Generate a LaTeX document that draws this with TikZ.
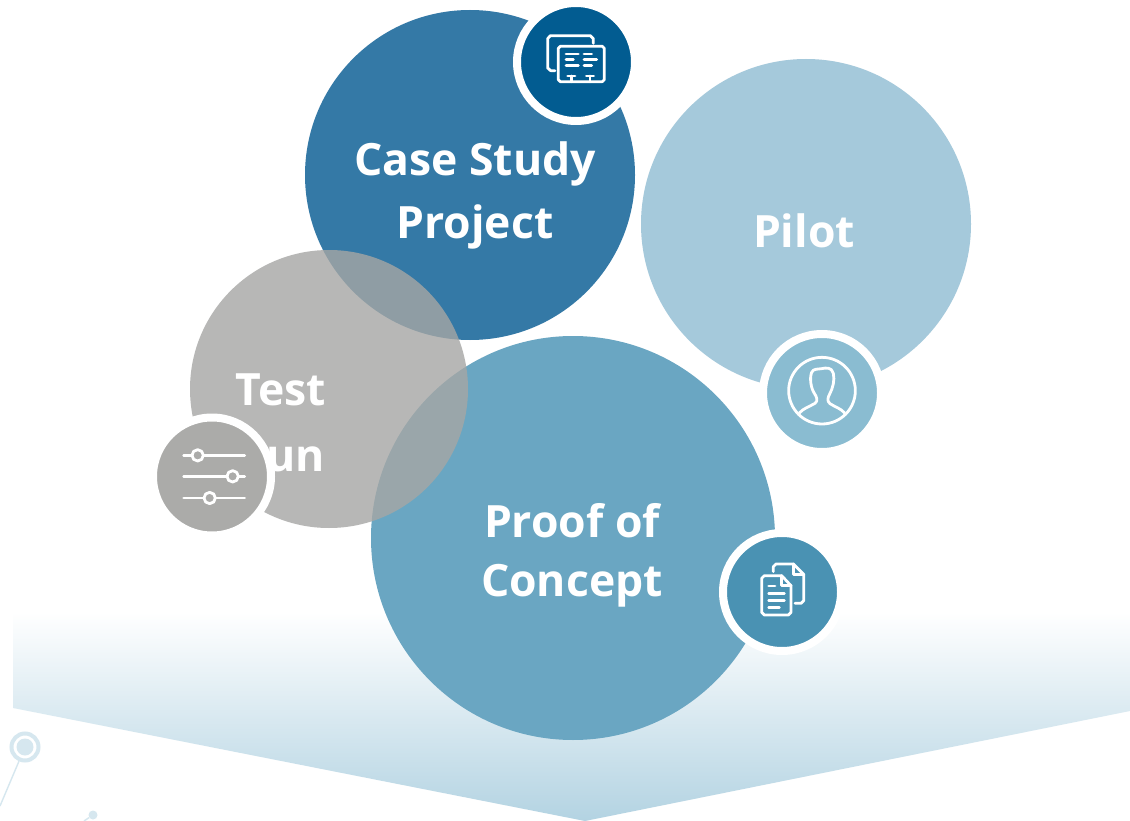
\documentclass[tikz,border=0pt]{standalone}
\usepackage{fontspec}
\setmainfont{Open Sans}
\definecolor{casec}{HTML}{3479A6}
\definecolor{caseic}{HTML}{025C91}
\definecolor{pilotc}{HTML}{A5C9DB}
\definecolor{pilotic}{HTML}{8ABCD1}
\definecolor{testc}{HTML}{A6A6A4}
\definecolor{testic}{HTML}{ABABA9}
\definecolor{proofc}{HTML}{6AA6C2}
\definecolor{proofic}{HTML}{4A92B3}
\definecolor{bandc}{HTML}{B3D3E2}
\definecolor{deco}{HTML}{D6E7EF}
\tikzset{
  bubble/.style={circle,inner sep=0pt,minimum size=#1},
  badge/.style={circle,inner sep=0pt,draw=white,line width=8pt,minimum size=118pt},
  lbl/.style={text=white,align=center,inner sep=0pt,font=\fontsize{44.5}{63}\selectfont\bfseries},
  icon/.style={draw=white,line width=2.8pt,line cap=round,line join=round},
  iconscale/.style={x=0.33333pt,y=-0.33333pt}
}
\begin{document}
\begin{tikzpicture}[x=1pt,y=-1pt]
\useasboundingbox (0,0) rectangle (1130,821);
\fill[white] (0,0) rectangle (1130,821);
% band
\shade[top color=white,bottom color=bandc,shading angle=0]
  (13,612) -- (1130,612) -- (1130,711) -- (585,821) -- (13,708) -- cycle;
% deco
\node[circle,draw=deco,line width=4pt,minimum size=27pt,inner sep=0pt] (ringa) at (25,747) {};
\node[circle,fill=deco,minimum size=17pt,inner sep=0pt] (ringb) at (25,747) {};
\node[circle,fill=deco,minimum size=9pt,inner sep=0pt] (dot) at (93,815) {};
\coordinate (enda) at (0,806);
\coordinate (endb) at (84,821);
\draw[deco,line width=1.4pt] (ringa) -- (enda);
\draw[deco,line width=1.4pt] (dot) -- (endb);
% bubbles
\node[bubble=330pt,fill=casec] (case) at (470,175) {};
\node[bubble=330pt,fill=pilotc] (pilot) at (806,224) {};
\node[bubble=404pt,fill=proofc] (proof) at (573,538) {};
\node[bubble=278pt,fill=testc,fill opacity=0.8] (test) at (329,389) {};
% labels
\node[lbl] (tcase) at (475,195) {Case Study\\Project};
\node[lbl] (tpilot) at (804,231) {Pilot};
\node[lbl,font=\fontsize{44.5}{66}\selectfont\bfseries] (ttest) at (281,423) {Test\\Run};
\node[lbl,font=\fontsize{44.5}{59}\selectfont\bfseries] (tproof) at (572,555) {Proof of\\Concept};
% badges
\node[badge,fill=caseic] (bcase) at (576,62) {};
\node[badge,fill=pilotic] (bpilot) at (822,393) {};
\node[badge,fill=testic] (btest) at (212,476.5) {};
\node[badge,fill=proofic] (bproof) at (782,592) {};
% case icon
\begin{scope}[shift={(510,0)},iconscale]
\draw[icon] (135,212) -- (122,212) -- (113,204) -- (113,116) -- (121,107) -- (241,107) -- (250,116) -- (250,130);
\draw[icon] (151,139) -- (277,139) -- (283,145) -- (283,239) -- (277,245) -- (151,245) -- (145,239) -- (145,145) -- cycle;
\draw[icon] (168,162) -- (205,162) (222,162) -- (245,162);
\draw[icon] (168,179) -- (190,179) (222,179) -- (260,179);
\draw[icon] (168,196) -- (205,196) (222,196) -- (245,196);
\draw[icon] (173,228) -- (195,228) (184,228) -- (184,245);
\draw[icon] (229,228) -- (251,228) (240,228) -- (240,245);
\end{scope}
% person icon
\begin{scope}[shift={(750,325)},iconscale]
\draw[icon] (216,197) circle[radius=100];
\draw[icon] (148,264) .. controls (160,250) and (178,245) .. (195,235)
  .. controls (205,228) and (200,215) .. (193,205)
  .. controls (183,190) and (178,160) .. (185,142)
  .. controls (190,130) and (205,133) .. (215,131)
  .. controls (228,128) and (245,126) .. (250,145)
  .. controls (255,165) and (248,190) .. (240,205)
  .. controls (233,218) and (230,228) .. (240,236)
  .. controls (255,246) and (272,250) .. (284,264);
\end{scope}
% sliders icon
\begin{scope}[shift={(145,405)},iconscale]
\draw[icon] (116,151) -- (141,151) (175,151) -- (299,151);
\draw[icon] (158,151) circle[radius=17];
\draw[icon] (116,214) -- (246,214) (280,214) -- (299,214);
\draw[icon] (263,214) circle[radius=17];
\draw[icon] (116,279) -- (177,279) (211,279) -- (299,279);
\draw[icon] (194,279) circle[radius=17];
\end{scope}
% doc icon
\begin{scope}[shift={(710,525)},iconscale]
\draw[icon] (190,140) -- (190,125) -- (198,117) -- (250,117) -- (281,148) -- (281,227) -- (273,235) -- (255,235);
\draw[icon] (250,117) -- (250,148) -- (281,148);
\draw[icon] (163,152) -- (215,152) -- (243,182) -- (243,262) -- (235,270) -- (163,270) -- (155,262) -- (155,160) -- cycle;
\draw[icon] (215,152) -- (215,182) -- (243,182);
\draw[icon] (176,183) -- (195,183);
\draw[icon] (176,205) -- (223,205);
\draw[icon] (176,226) -- (223,226);
\draw[icon] (176,247) -- (208,247);
\end{scope}
\end{tikzpicture}
\end{document}
